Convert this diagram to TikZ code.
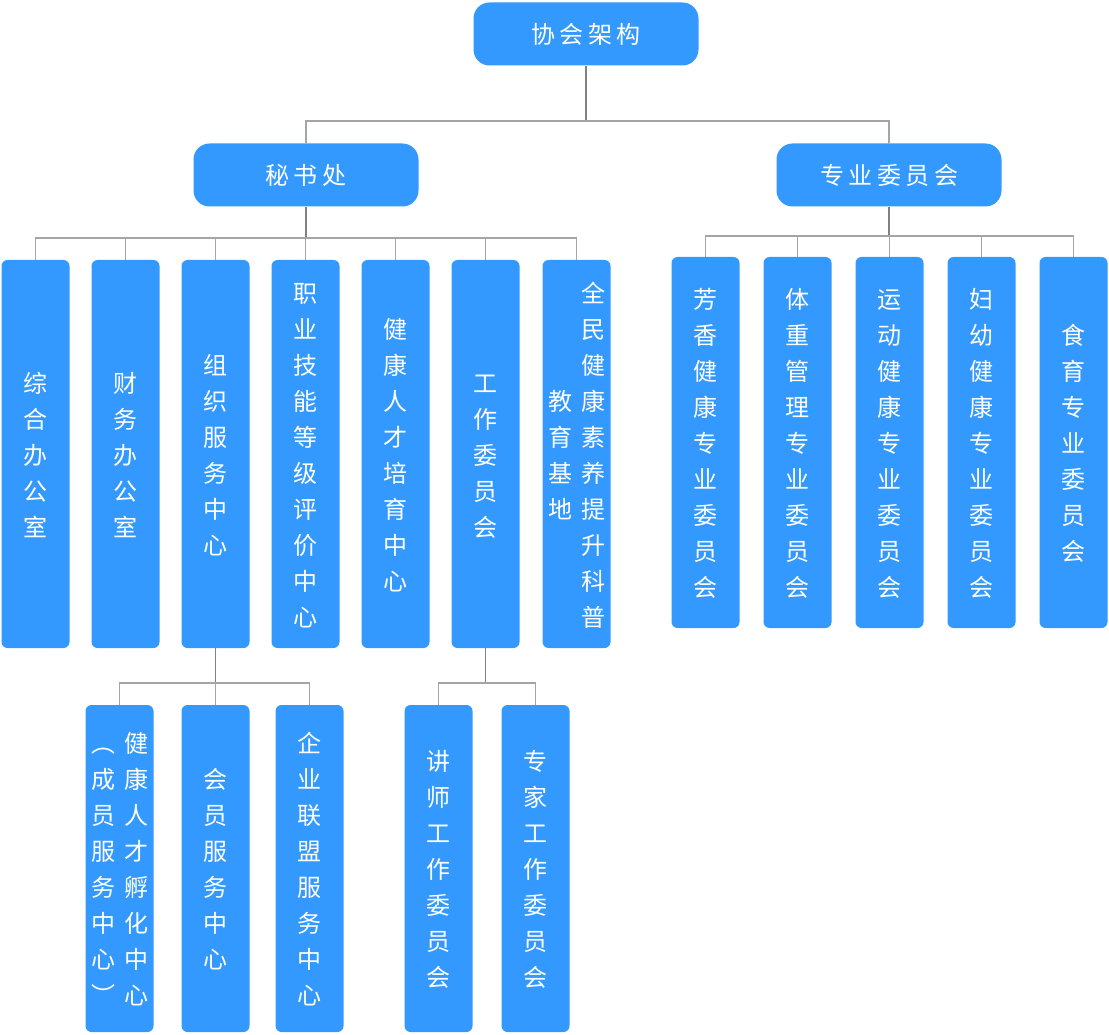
\documentclass[tikz,border=0pt]{standalone}
\usepackage{fontspec}
\newfontfamily\cjk{Noto Sans CJK SC}
\definecolor{boxblue}{RGB}{51,153,255}
\definecolor{stemgray}{RGB}{130,130,130}
\definecolor{linkgray}{RGB}{165,165,165}
\newcommand{\hgap}{\hspace{4.5pt}}
\newcommand{\vcol}[1]{\raisebox{-3pt}[\height][\depth]{\begin{tabular}[c]{@{}c@{}}#1\end{tabular}}}
\tikzset{
	headbox/.style={fill=boxblue, rounded corners=16pt, minimum width=225pt, minimum height=63pt, inner sep=0pt, text=white, font=\cjk\fontsize{24}{28}\selectfont},
	unitbox/.style={fill=boxblue, rounded corners=6pt, minimum width=68pt, inner sep=0pt, text=white, font=\cjk\fontsize{24}{36}\selectfont},
	stem/.style={draw=stemgray, line width=1.4pt},
	link/.style={draw=linkgray, line width=1.1pt}
}
\begin{document}
\begin{tikzpicture}[x=1pt, y=-1pt]
			\useasboundingbox (0,0) rectangle (1109,1035);
			\node [headbox] (root) at (586,34) {协\hgap 会\hgap 架\hgap 构};
			\node [headbox] (mish) at (306,175) {秘\hgap 书\hgap 处};
			\node [headbox] (zhuan) at (889,175) {专\hgap 业\hgap 委\hgap 员\hgap 会};
			\node [unitbox, minimum height=388pt] (s1) at (35.5,454) {\vcol{综\\合\\办\\公\\室}};
			\node [unitbox, minimum height=388pt] (s2) at (125.5,454) {\vcol{财\\务\\办\\公\\室}};
			\node [unitbox, minimum height=388pt] (s3) at (215.5,454) {\vcol{组\\织\\服\\务\\中\\心}};
			\node [unitbox, minimum height=388pt] (s4) at (305.5,454) {\vcol{职\\业\\技\\能\\等\\级\\评\\价\\中\\心}};
			\node [unitbox, minimum height=388pt] (s5) at (395.5,454) {\vcol{健\\康\\人\\才\\培\\育\\中\\心}};
			\node [unitbox, minimum height=388pt] (s6) at (485.5,454) {\vcol{工\\作\\委\\员\\会}};
			\node [unitbox, minimum height=388pt] (s7) at (576.5,454) {\vcol{教\\育\\基\\地}\hspace{9pt}\vcol{全\\民\\健\\康\\素\\养\\提\\升\\科\\普}};
			\node [unitbox, minimum height=371pt] (c1) at (705.5,442.5) {\vcol{芳\\香\\健\\康\\专\\业\\委\\员\\会}};
			\node [unitbox, minimum height=371pt] (c2) at (797.5,442.5) {\vcol{体\\重\\管\\理\\专\\业\\委\\员\\会}};
			\node [unitbox, minimum height=371pt] (c3) at (889.5,442.5) {\vcol{运\\动\\健\\康\\专\\业\\委\\员\\会}};
			\node [unitbox, minimum height=371pt] (c4) at (981.5,442.5) {\vcol{妇\\幼\\健\\康\\专\\业\\委\\员\\会}};
			\node [unitbox, minimum height=371pt] (c5) at (1073.5,442.5) {\vcol{食\\育\\专\\业\\委\\员\\会}};
			\node [unitbox, minimum height=327pt] (g1) at (119.5,868.5) {\vcol{︵\\成\\员\\服\\务\\中\\心\\︶}\hspace{9pt}\vcol{健\\康\\人\\才\\孵\\化\\中\\心}};
			\node [unitbox, minimum height=327pt] (g2) at (215.5,868.5) {\vcol{会\\员\\服\\务\\中\\心}};
			\node [unitbox, minimum height=327pt] (g3) at (309.5,868.5) {\vcol{企\\业\\联\\盟\\服\\务\\中\\心}};
			\node [unitbox, minimum height=327pt] (w1) at (438.5,868.5) {\vcol{讲\\师\\工\\作\\委\\员\\会}};
			\node [unitbox, minimum height=327pt] (w2) at (535.5,868.5) {\vcol{专\\家\\工\\作\\委\\员\\会}};
			\coordinate (b0) at (586,121);
			\coordinate (b1) at (306,238);
			\coordinate (b2) at (889,236);
			\coordinate (b3) at (215.5,683);
			\coordinate (b4) at (485.5,683);
			\draw [stem] (root.south) -- (b0);
			\draw [link] (b0) -| (mish.north);
			\draw [link] (b0) -| (zhuan.north);
			\draw [stem] (mish.south) -- (b1);
			\draw [link] (b1) -| (s1.north);
			\draw [link] (b1) -| (s2.north);
			\draw [link] (b1) -| (s3.north);
			\draw [link] (b1) -| (s4.north);
			\draw [link] (b1) -| (s5.north);
			\draw [link] (b1) -| (s6.north);
			\draw [link] (b1) -| (s7.north);
			\draw [stem] (zhuan.south) -- (b2);
			\draw [link] (b2) -| (c1.north);
			\draw [link] (b2) -| (c2.north);
			\draw [link] (b2) -| (c3.north);
			\draw [link] (b2) -| (c4.north);
			\draw [link] (b2) -| (c5.north);
			\draw [stem] (s3.south) -- (b3);
			\draw [link] (b3) -| (g1.north);
			\draw [link] (b3) -| (g2.north);
			\draw [link] (b3) -| (g3.north);
			\draw [stem] (s6.south) -- (b4);
			\draw [link] (b4) -| (w1.north);
			\draw [link] (b4) -| (w2.north);
\end{tikzpicture}
\end{document}
